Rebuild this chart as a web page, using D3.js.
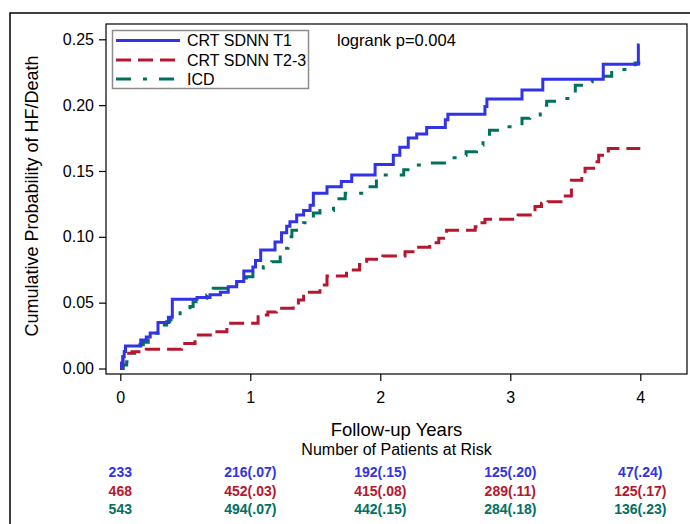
<!DOCTYPE html>
<html><head><meta charset="utf-8">
<script src="https://cdn.jsdelivr.net/npm/d3@7"></script>
<style>body{margin:0;background:#fff}svg{display:block}</style>
</head><body>
<svg id="c" width="690" height="524"></svg>
<script>
// ---- data ----
const seriesNames = ["CRT SDNN T1", "CRT SDNN T2-3", "ICD"];
const blueT = [0,0.01,0.02,0.03,0.04,0.157,0.20,0.23,0.29,0.37,0.40,0.59,0.69,0.77,0.83,0.895,0.95,1.02,1.04,1.08,1.19,1.24,1.28,1.305,1.357,1.41,1.46,1.485,1.59,1.70,1.78,1.96,2.10,2.15,2.215,2.28,2.357,2.50,2.52,2.805,2.82,3.09,3.25,3.715,3.985,3.995];
const blueP = [0,0.004,0.009,0.013,0.017,0.0216,0.024,0.027,0.035,0.039,0.0525,0.054,0.056,0.058,0.062,0.066,0.074,0.077,0.082,0.090,0.096,0.103,0.108,0.1115,0.1166,0.120,0.124,0.133,0.138,0.142,0.147,0.155,0.162,0.168,0.175,0.178,0.183,0.189,0.193,0.199,0.2046,0.2115,0.2196,0.231,0.2456,0.2456];
const redT = [0,0.01,0.02,0.05,0.09,0.2,0.47,0.575,0.715,0.82,1.06,1.135,1.20,1.33,1.37,1.41,1.536,1.59,1.74,1.84,1.895,2.02,2.19,2.27,2.38,2.45,2.51,2.73,2.755,2.805,3.06,3.19,3.24,3.29,3.41,3.47,3.55,3.575,3.64,3.68,3.754,4.0];
const redP = [0,0.004,0.009,0.0115,0.0128,0.0146,0.019,0.0254,0.028,0.0343,0.0406,0.043,0.0457,0.048,0.052,0.058,0.0634,0.0702,0.0748,0.079,0.083,0.0854,0.0887,0.092,0.0955,0.099,0.105,0.1077,0.1107,0.1133,0.1166,0.123,0.1254,0.1267,0.131,0.143,0.147,0.152,0.157,0.162,0.167,0.167];
const greenT = [0,0.023,0.049,0.075,0.1,0.126,0.15,0.177,0.215,0.254,0.29,0.318,0.357,0.38,0.46,0.536,0.56,0.6,0.665,0.715,0.82,0.895,0.97,1.02,1.1,1.165,1.23,1.267,1.29,1.32,1.41,1.485,1.536,1.64,1.73,1.87,1.97,2.0,2.18,2.24,2.32,2.52,2.59,2.66,2.74,2.79,2.84,2.93,3.09,3.15,3.23,3.28,3.38,3.47,3.5,3.56,3.63,3.78,3.96,4.0];
const greenP = [0,0.0027,0.0052,0.009,0.0115,0.0153,0.018,0.020,0.0254,0.0267,0.0305,0.033,0.0355,0.037,0.0444,0.047,0.0507,0.0533,0.0558,0.061,0.0634,0.066,0.0697,0.0735,0.0773,0.081,0.086,0.0913,0.100,0.105,0.1107,0.118,0.120,0.129,0.133,0.138,0.144,0.147,0.151,0.1545,0.156,0.16,0.162,0.1646,0.1697,0.176,0.181,0.1836,0.19,0.1925,0.2,0.203,0.205,0.2084,0.2152,0.2178,0.222,0.227,0.232,0.232];
const xTicks = [0,1,2,3,4];
const yTicks = [0,0.05,0.10,0.15,0.20,0.25];
const riskBlue  = ["233","216(.07)","192(.15)","125(.20)","47(.24)"];
const riskRed   = ["468","452(.03)","415(.08)","289(.11)","125(.17)"];
const riskGreen = ["543","494(.07)","442(.15)","284(.18)","136(.23)"];
const pText = "logrank p=0.004";

// ---- styles ----
const colors = ["#3232E6", "#B5172F", "#00705F"];
const dashes = [null, "15,7", "15,12,4,12"];
const FONT = "'Liberation Sans', Arial, sans-serif";
const NARROW = "'Liberation Sans Narrow', 'Arial Narrow', 'Liberation Sans', Arial, sans-serif";

const svg = d3.select("#c");
const x = d3.scaleLinear().domain([0,4]).range([120.3,640.3]);
const y = d3.scaleLinear().domain([0,0.25]).range([368.5,39.3]);
const frame = {l:106, t:24, r:687, b:374};
const cx = (frame.l + frame.r) / 2;

// outer border
svg.append("rect").attr("x",10).attr("y",13).attr("width",700).attr("height",540)
  .attr("fill","none").attr("stroke","#000").attr("stroke-width",1.5);

// plot frame
svg.append("rect").attr("x",frame.l).attr("y",frame.t).attr("width",frame.r-frame.l).attr("height",frame.b-frame.t)
  .attr("fill","#fff").attr("stroke","#000").attr("stroke-width",1.2);

// axes
const yAxis = d3.axisLeft(y).tickValues(yTicks).tickFormat(d3.format(".2f")).tickSize(7).tickPadding(5);
const gy = svg.append("g").attr("transform",`translate(${frame.l},0)`).call(yAxis);
const xAxis = d3.axisBottom(x).tickValues(xTicks).tickFormat(d3.format("d")).tickSize(7).tickPadding(11);
const gx = svg.append("g").attr("transform",`translate(0,${frame.b})`).call(xAxis);
[gx,gy].forEach(g=>{
  g.select(".domain").remove();
  g.selectAll("line").attr("stroke","#000").attr("stroke-width",1.2);
  g.selectAll("text").attr("font-family",FONT).attr("font-size",16).attr("fill","#000");
});

// axis labels
svg.append("text").attr("transform","translate(38,196) rotate(-90)").attr("text-anchor","middle")
  .attr("font-family",FONT).attr("font-size",18).text("Cumulative Probability of HF/Death");
svg.append("text").attr("x",cx).attr("y",436).attr("text-anchor","middle")
  .attr("font-family",FONT).attr("font-size",18.5).text("Follow-up Years");
svg.append("text").attr("x",cx).attr("y",455).attr("text-anchor","middle")
  .attr("font-family",FONT).attr("font-size",16).text("Number of Patients at Risk");

// curves
const data = [
  blueT.map((t,i)=>[t,blueP[i]]),
  redT.map((t,i)=>[t,redP[i]]),
  greenT.map((t,i)=>[t,greenP[i]])
];
const line = d3.line().x(d=>x(d[0])).y(d=>y(d[1])).curve(d3.curveStepAfter);
[2,1,0].forEach(i=>{
  svg.append("path").attr("d",line(data[i])).attr("fill","none")
    .attr("stroke",colors[i]).attr("stroke-width",3)
    .attr("stroke-dasharray",dashes[i]);
});

// legend
svg.append("rect").attr("x",112.5).attr("y",30.5).attr("width",196).attr("height",58)
  .attr("fill","#fff").attr("stroke","#8c8c8c").attr("stroke-width",1.5);
const legY = [40.5,60,79];
seriesNames.forEach((n,i)=>{
  svg.append("line").attr("x1",116).attr("x2",180).attr("y1",legY[i]).attr("y2",legY[i])
    .attr("stroke",colors[i]).attr("stroke-width",3).attr("stroke-dasharray",dashes[i]);
  svg.append("text").attr("x",187).attr("y",legY[i]+5.8).attr("font-family",FONT).attr("font-size",16).text(n);
});
svg.append("text").attr("x",337).attr("y",45.5).attr("font-family",FONT).attr("font-size",16.5).text(pText);

// risk table
const riskRows = [riskBlue, riskRed, riskGreen];
const riskY = [477,496,514];
riskRows.forEach((row,r)=>{
  row.forEach((v,j)=>{
    svg.append("text").attr("x",x(xTicks[j])).attr("y",riskY[r]).attr("text-anchor","middle")
      .attr("font-family",NARROW).attr("font-weight","bold").attr("font-size",14)
      .attr("fill",colors[r]).text(v);
  });
});
</script>
</body></html>
